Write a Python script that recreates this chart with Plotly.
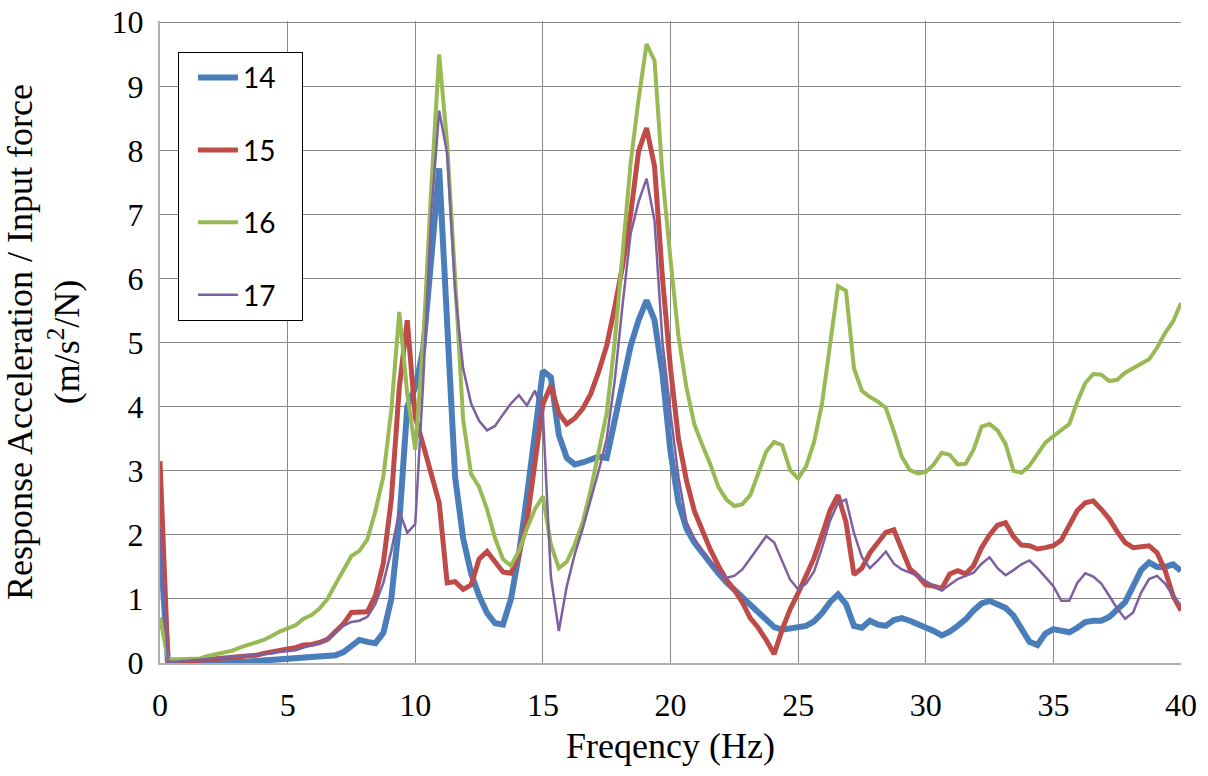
import plotly.graph_objects as go

# Frequency sampling (vertices every 0.3125 Hz, 0..40 Hz)
FREQ_STEP = 0.3125
N_POINTS = 129
freq = [i * FREQ_STEP for i in range(N_POINTS)]

s14 = [1.9, 0.0, 0.0, 0.0, 0.0, 0.0, 0.01, 0.01, 0.01, 0.01,
       0.02, 0.02, 0.03, 0.04, 0.05, 0.05, 0.06, 0.07, 0.08, 0.09,
       0.09, 0.1, 0.12, 0.17, 0.28, 0.36, 0.33, 0.31, 0.47, 1.0,
       2.2, 4.0, 4.3, 4.9, 6.3, 7.72, 5.3, 2.9, 1.95, 1.4,
       1.05, 0.78, 0.62, 0.6, 1.0, 1.7, 2.6, 3.6, 4.56, 4.46,
       3.56, 3.2, 3.1, 3.13, 3.17, 3.22, 3.2, 3.75, 4.4, 4.95,
       5.35, 5.66, 5.35, 4.5, 3.3, 2.5, 2.1, 1.88, 1.72, 1.55,
       1.4, 1.26, 1.14, 1.03, 0.9, 0.79, 0.66, 0.56, 0.52, 0.54,
       0.56, 0.58, 0.65, 0.78, 0.95, 1.07, 0.92, 0.58, 0.55, 0.66,
       0.6, 0.58, 0.67, 0.7, 0.66, 0.61, 0.55, 0.5, 0.43, 0.49,
       0.58, 0.68, 0.82, 0.93, 0.97, 0.91, 0.86, 0.74, 0.55, 0.33,
       0.28, 0.46, 0.53, 0.5, 0.48, 0.55, 0.64, 0.66, 0.66, 0.72,
       0.84, 0.95, 1.2, 1.45, 1.57, 1.5, 1.5, 1.54, 1.44]

s15 = [3.15, 0.01, 0.01, 0.02, 0.03, 0.04, 0.05, 0.06, 0.08, 0.09,
       0.10, 0.11, 0.12, 0.15, 0.18, 0.2, 0.22, 0.24, 0.28, 0.29,
       0.32, 0.37, 0.48, 0.61, 0.79, 0.79, 0.8, 1.05, 1.56, 2.55,
       4.3, 5.35, 3.84, 3.4, 2.95, 2.5, 1.25, 1.27, 1.15, 1.22,
       1.62, 1.74, 1.58, 1.42, 1.40, 1.7, 2.2, 3.1, 4.04, 4.33,
       3.9, 3.73, 3.82, 3.97, 4.2, 4.55, 4.95, 5.55, 6.2, 7.0,
       7.99, 8.35, 7.75, 6.0, 4.6, 3.5, 2.85, 2.37, 2.05, 1.77,
       1.52, 1.3, 1.14, 0.95, 0.70, 0.55, 0.36, 0.14, 0.52, 0.84,
       1.09, 1.36, 1.64, 2.0, 2.38, 2.62, 2.2, 1.38, 1.48, 1.72,
       1.88, 2.04, 2.08, 1.77, 1.47, 1.36, 1.22, 1.2, 1.16, 1.39,
       1.44, 1.39, 1.52, 1.8, 2.0, 2.15, 2.19, 1.97, 1.84, 1.83,
       1.78, 1.8, 1.83, 1.92, 2.15, 2.38, 2.5, 2.53, 2.4, 2.25,
       2.05, 1.88, 1.8, 1.81, 1.83, 1.72, 1.45, 1.05, 0.82]

s16 = [0.71, 0.06, 0.06, 0.06, 0.06, 0.07, 0.11, 0.14, 0.17, 0.19,
       0.24, 0.28, 0.31, 0.36, 0.42, 0.49, 0.54, 0.59, 0.69, 0.75,
       0.85, 1.0, 1.23, 1.46, 1.67, 1.75, 1.93, 2.37, 2.91, 3.95,
       5.48, 4.2, 3.33, 5.0, 7.4, 9.5, 8.1, 6.0, 3.8, 2.95,
       2.75, 2.4, 1.95, 1.62, 1.52, 1.75, 2.1, 2.4, 2.6, 1.85,
       1.48, 1.58, 1.85, 2.2, 2.7, 3.3, 3.9, 5.0, 6.4, 7.8,
       8.8, 9.66, 9.4, 7.6, 6.3, 5.1, 4.3, 3.72, 3.4, 3.1,
       2.75, 2.55, 2.45, 2.48, 2.62, 2.95, 3.3, 3.45, 3.4, 3.01,
       2.88, 3.07, 3.45, 4.05, 5.0, 5.88, 5.81, 4.6, 4.25, 4.15,
       4.08, 3.98, 3.62, 3.22, 3.01, 2.96, 2.98, 3.1, 3.28, 3.25,
       3.1, 3.11, 3.33, 3.69, 3.73, 3.63, 3.42, 3.0, 2.97, 3.08,
       3.26, 3.44, 3.54, 3.63, 3.73, 4.08, 4.37, 4.51, 4.5, 4.4,
       4.42, 4.53, 4.6, 4.67, 4.74, 4.92, 5.15, 5.33, 5.62]

s17 = [2.1, 0.02, 0.02, 0.03, 0.04, 0.05, 0.06, 0.07, 0.08, 0.09,
       0.1, 0.11, 0.12, 0.13, 0.15, 0.17, 0.18, 0.2, 0.24, 0.27,
       0.31, 0.38, 0.47, 0.58, 0.64, 0.66, 0.72, 0.92, 1.25, 1.75,
       2.37, 2.03, 2.17, 4.4, 7.0, 8.62, 7.95, 5.8, 4.6, 4.05,
       3.78, 3.63, 3.7, 3.88, 4.05, 4.18, 4.02, 4.25, 3.9, 1.35,
       0.5, 1.2, 1.7, 2.1, 2.55, 3.0, 3.5, 4.4, 5.6, 6.7,
       7.2, 7.56, 6.9, 5.0, 3.9, 2.9, 2.2, 1.94, 1.75, 1.58,
       1.43, 1.33, 1.36, 1.46, 1.63, 1.81, 1.98, 1.88, 1.6, 1.3,
       1.15, 1.24, 1.43, 1.8, 2.22, 2.5, 2.55, 2.03, 1.65, 1.48,
       1.6, 1.74, 1.55, 1.46, 1.41, 1.36, 1.28, 1.2, 1.13, 1.22,
       1.31, 1.36, 1.41, 1.55, 1.65, 1.48, 1.37, 1.45, 1.54, 1.6,
       1.48, 1.34, 1.2, 0.97, 0.97, 1.25, 1.4, 1.35, 1.24, 1.05,
       0.85, 0.69, 0.79, 1.1, 1.31, 1.36, 1.24, 1.05, 0.9]

series_names = ["14", "15", "16", "17"]
series_values = [s14, s15, s16, s17]
series_colors = ["#4A7EBB", "#BE4B48", "#98B954", "#7D60A0"]
series_widths = [6, 5, 4, 2.5]

x_ticks = [0, 5, 10, 15, 20, 25, 30, 35, 40]
y_ticks = [0, 1, 2, 3, 4, 5, 6, 7, 8, 9, 10]

fig = go.Figure()
for name, vals, col, w in zip(series_names, series_values, series_colors, series_widths):
    fig.add_trace(go.Scatter(
        x=freq, y=vals, mode="lines",
        name=name + "\u00a0\u00a0\u00a0", legendgroup=name,
        line=dict(color=col, width=w, shape="linear"),
    ))

serif = "Liberation Serif"
grid_col = "#8A8A8A"

fig.update_layout(
    width=1208, height=776,
    margin=dict(l=160, r=27, t=21, b=113, autoexpand=False),
    paper_bgcolor="white", plot_bgcolor="white",
    font=dict(family=serif, color="black"),
    showlegend=True,
    legend=dict(
        x=0.0176, y=0.952, xanchor="left", yanchor="top",
        bgcolor="white", bordercolor="#000000", borderwidth=1,
        font=dict(family="Lato", size=28, color="black"),
        tracegroupgap=33, itemwidth=40, indentation=14,
    ),
    xaxis=dict(
        range=[0, 40], tickmode="array", tickvals=x_ticks, ticktext=[str(t) for t in x_ticks],
        showgrid=True, gridcolor=grid_col, gridwidth=1,
        showline=True, linecolor="#B0B0B0", linewidth=2,
        ticks="outside", ticklen=13, tickcolor="rgba(0,0,0,0)", zeroline=False,
        ticklabeloverflow="allow", automargin=False,
        tickfont=dict(family=serif, size=32, color="black"),
        title=dict(text="Freqency (Hz)", font=dict(family=serif, size=36, color="black"), standoff=10),
    ),
    yaxis=dict(
        range=[0, 10.02], tickmode="array", tickvals=y_ticks, ticktext=[str(t) for t in y_ticks],
        showgrid=True, gridcolor=grid_col, gridwidth=1,
        showline=True, linecolor="#B0B0B0", linewidth=2,
        ticks="outside", ticklen=8, tickcolor="rgba(0,0,0,0)", zeroline=False,
        ticklabeloverflow="allow", automargin=False,
        tickfont=dict(family=serif, size=32, color="black"),
        title=dict(text="Response Acceleration / Input force<br>(m/s<sup>2</sup>/N)",
                   font=dict(family=serif, size=36, color="black"), standoff=23),
    ),
)

fig.write_html("out.html", config={"displayModeBar": False},
               post_script="document.body.style.margin='0';")
